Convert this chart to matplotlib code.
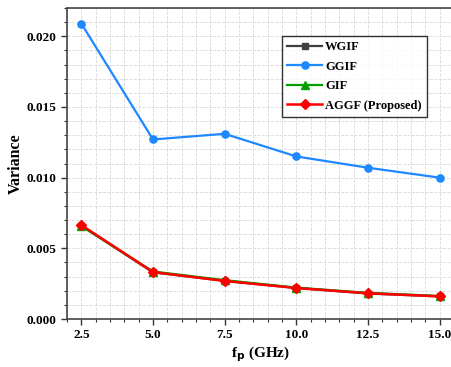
import numpy as np
import matplotlib
matplotlib.use("Agg")
import matplotlib.pyplot as plt
from matplotlib.ticker import MultipleLocator, FormatStrFormatter

plt.rcParams['font.family'] = 'Liberation Serif'
plt.rcParams['font.weight'] = 'bold'

fp = [2.5, 5.0, 7.5, 10.0, 12.5, 15.0]
wgif = [0.0066, 0.0033, 0.0027, 0.0022, 0.0018, 0.0016]
ggif = [0.0209, 0.0127, 0.0131, 0.0115, 0.0107, 0.0100]
gif = [0.00657, 0.00336, 0.00275, 0.00222, 0.00185, 0.00163]
aggf = [0.00664, 0.00332, 0.00269, 0.00219, 0.00182, 0.00160]

fig = plt.figure(figsize=(4.51, 3.67), dpi=100)
ax = fig.add_axes([67/451, 1 - 319/367, (454 - 67)/451, (319 - 8)/367])

ax.plot(fp, wgif, '-s', color='#404040', lw=1.6, ms=4.5, label='WGIF')
ax.plot(fp, ggif, '-o', color='#1e88ff', lw=1.6, ms=5.2, label='GGIF')
ax.plot(fp, gif, '-^', color='#00a000', lw=1.6, ms=5.2, label='GIF')
ax.plot(fp, aggf, '-D', color='#ff0000', lw=1.8, ms=5, label='AGGF (Proposed)')

ax.set_xlim(2.0, 15.5)
ax.set_ylim(0, 0.022)
ax.xaxis.set_major_locator(MultipleLocator(2.5))
ax.xaxis.set_minor_locator(MultipleLocator(0.5))
ax.yaxis.set_major_locator(MultipleLocator(0.005))
ax.yaxis.set_minor_locator(MultipleLocator(0.001))
ax.xaxis.set_major_formatter(FormatStrFormatter('%.1f'))
ax.yaxis.set_major_formatter(FormatStrFormatter('%.3f'))

ax.grid(which='both', color='#d8d8d8', linestyle='--', linewidth=0.6)
ax.set_axisbelow(True)
ax.tick_params(which='major', direction='out', length=4, width=1, labelsize=9.5, colors='#333333', labelcolor='black')
ax.tick_params(which='minor', direction='out', length=2.5, width=0.8, colors='#333333')
ax.tick_params(top=False, right=False)
for s in ax.spines.values():
    s.set_color('#444444')
    s.set_linewidth(1.2)
ax.spines['right'].set_visible(False)

ax.set_xlabel(r'f$_\mathbf{p}$ (GHz)', fontsize=11, fontweight='bold', labelpad=2)
ax.set_ylabel('Variance', fontsize=11.5, fontweight='bold', labelpad=2)

leg = ax.legend(loc='upper left', bbox_to_anchor=((282 - 67)/387, 1 - (36 - 8)/311),
                fontsize=9.0, frameon=True, fancybox=False, edgecolor='black',
                handlelength=2.8, handletextpad=0.25, borderpad=0.4, labelspacing=0.6,
                borderaxespad=0)
leg.get_frame().set_linewidth(1.0)

fig.savefig('out.png', dpi=100)
